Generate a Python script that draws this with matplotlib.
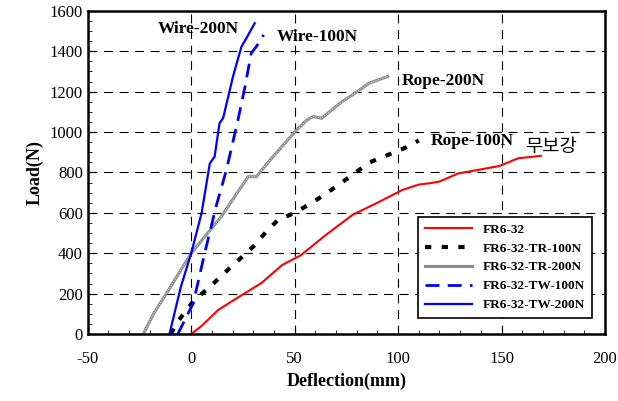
import matplotlib.pyplot as plt
from matplotlib.ticker import MultipleLocator

plt.rcParams['font.family'] = ['Liberation Serif', 'Noto Sans CJK KR', 'DejaVu Sans']
plt.rcParams['axes.unicode_minus'] = False

# 데이터
fr_x = [0, 5, 13, 24, 34, 44, 53, 65, 78, 90, 102, 110, 115, 120, 129, 140, 149, 158, 169]
fr_y = [0, 40, 119, 190, 253, 342, 390, 490, 590, 650, 713, 740, 746, 755, 795, 815, 832, 870, 882]

tr100_x = [-10, -6, 1.5, 9, 16, 23, 30, 37, 42, 50, 60, 70, 78, 86, 94, 103, 110]
tr100_y = [0, 69, 168, 233, 302, 367, 433, 515, 565, 600, 660, 730, 788, 849, 882, 920, 958]

tr200_x = [-23, -18, -10, 0, 8, 14.5, 21, 27.5, 31.5, 38, 44, 51, 56, 59, 63, 68, 73, 78, 86, 95]
tr200_y = [3, 104, 233, 400, 500, 581, 680, 779, 779, 860, 930, 1011, 1060, 1077, 1068, 1110, 1151, 1184, 1242, 1275]

tw100_x = [-6.5, 1, 6.5, 12, 17, 22.6, 26, 29, 31.5, 35]
tw100_y = [0, 153, 400, 631, 812, 1060, 1225, 1390, 1423, 1481]

tw200_x = [-10.5, -5, 0, 5, 9, 11.3, 13.7, 15.4, 20.2, 24.3, 26.7, 30.7]
tw200_y = [0, 234, 400, 598, 845, 878, 1044, 1068, 1275, 1423, 1465, 1539]

fig = plt.figure(figsize=(6.18, 4.01), dpi=100)
ax = fig.add_axes([0.142, 0.167, 0.837, 0.806])

ax.plot(fr_x, fr_y, color='red', lw=1.5, label='FR6-32')
ax.plot(tr100_x, tr100_y, color='black', lw=3, ls=(0, (1.5, 2.5)), label='FR6-32-TR-100N')
ax.plot(tr200_x, tr200_y, color='#8c8c8c', lw=2.2, label='FR6-32-TR-200N')
ax.plot(tr200_x, tr200_y, color='white', lw=0.6, ls=(0, (1, 2)))
ax.plot(tw100_x, tw100_y, color='blue', lw=2, ls=(0, (5, 3)), label='FR6-32-TW-100N')
ax.plot(tw200_x, tw200_y, color='blue', lw=1.6, label='FR6-32-TW-200N')

ax.set_xlim(-50, 200)
ax.set_ylim(0, 1600)
ax.xaxis.set_major_locator(MultipleLocator(50))
ax.xaxis.set_minor_locator(MultipleLocator(10))
ax.yaxis.set_major_locator(MultipleLocator(200))
ax.yaxis.set_minor_locator(MultipleLocator(50))
ax.tick_params(which='both', direction='in', labelsize=12)
ax.tick_params(which='major', length=5)
ax.tick_params(which='minor', length=3)
ax.tick_params(axis='x', pad=12)
ax.grid(True, which='major', color='black', ls=(0, (8, 6)), lw=0.8)
for s in ax.spines.values():
    s.set_linewidth(1.8)

ax.set_xlabel('Deflection(mm)', fontsize=13, fontweight='bold')
ax.set_ylabel('Load(N)', fontsize=13, fontweight='bold')

ax.text(3.5, 1490, 'Wire-200N', fontsize=12.5, fontweight='bold', ha='center')
ax.text(61, 1450, 'Wire-100N', fontsize=12.5, fontweight='bold', ha='center')
ax.text(122, 1235, 'Rope-200N', fontsize=12.5, fontweight='bold', ha='center')
ax.text(136, 935, 'Rope-100N', fontsize=12.5, fontweight='bold', ha='center')
ax.text(174, 900, '무보강', fontsize=13.5, family=['Noto Sans CJK KR'], ha='center')

leg = ax.legend(loc='lower right', bbox_to_anchor=(0.987, 0.03), prop={'weight': 'bold', 'size': 9.5},
                fancybox=False, edgecolor='black', framealpha=1, handlelength=3.6,
                labelspacing=0.5, borderpad=0.5)
leg.get_frame().set_linewidth(1.2)

plt.savefig('out.png', dpi=100)
